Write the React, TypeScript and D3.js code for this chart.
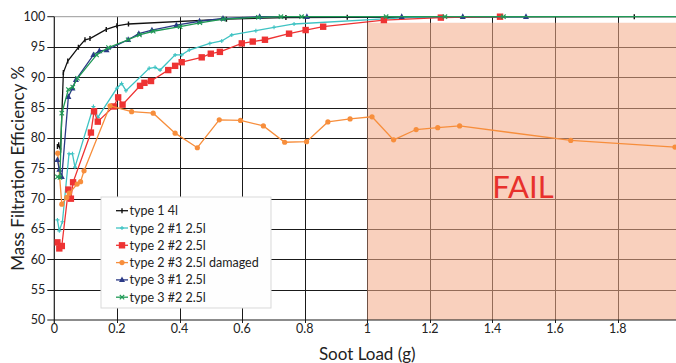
import React from "react";
import * as d3 from "d3";

const xTicks = [0, 0.2, 0.4, 0.6, 0.8, 1, 1.2, 1.4, 1.6, 1.8];
const yTicks = [50, 55, 60, 65, 70, 75, 80, 85, 90, 95, 100];

const seriesNames = ["type 1 4l", "type 2 #1 2.5l", "type 2 #2 2.5l", "type 2 #3 2.5l damaged", "type 3 #1 2.5l", "type 3 #2 2.5l"];
const seriesColors = ["#111111", "#3fc3c3", "#ee3333", "#f78e3c", "#2b3a86", "#1f9a55"];
const seriesMarkers = ["tick", "plus", "square", "circle", "triangle", "cross"];

const type1X = [0.010, 0.014, 0.020, 0.029, 0.043, 0.077, 0.098, 0.114, 0.166, 0.200, 0.237, 0.550, 0.740, 0.936, 1.853, 2.0];
const type1Y = [78.6, 78.9, 78.0, 90.8, 92.7, 94.95, 96.2, 96.4, 97.9, 98.5, 98.8, 99.6, 99.85, 99.9, 100, 100];

const type2aX = [0.010, 0.016, 0.026, 0.047, 0.058, 0.066, 0.125, 0.139, 0.200, 0.215, 0.229, 0.303, 0.322, 0.338, 0.386, 0.407, 0.431, 0.497, 0.535, 0.567, 0.644, 0.702, 0.766, 1.110, 1.305, 1.507];
const type2aY = [66.5, 64.7, 66.2, 77.4, 77.4, 75.2, 85.2, 83.4, 88.2, 89.0, 87.8, 91.5, 91.65, 91.2, 93.7, 93.7, 94.5, 95.6, 96.0, 97.0, 97.7, 98.25, 98.8, 99.8, 100, 100];

const type2bX = [0.010, 0.016, 0.024, 0.045, 0.053, 0.060, 0.117, 0.127, 0.139, 0.190, 0.204, 0.218, 0.274, 0.288, 0.309, 0.364, 0.386, 0.407, 0.471, 0.500, 0.529, 0.599, 0.634, 0.673, 0.750, 0.803, 0.859, 1.053, 1.235, 1.424];
const type2bY = [62.8, 61.8, 62.2, 71.5, 70.0, 72.7, 80.9, 84.4, 82.7, 85.2, 86.7, 85.5, 88.6, 89.1, 89.4, 91.2, 91.9, 92.5, 93.3, 93.9, 94.2, 95.6, 95.9, 96.2, 97.2, 97.8, 98.35, 99.45, 99.85, 100];

const type2cX = [0.011, 0.024, 0.040, 0.048, 0.073, 0.084, 0.095, 0.178, 0.247, 0.316, 0.386, 0.457, 0.527, 0.595, 0.668, 0.736, 0.806, 0.874, 0.945, 1.015, 1.084, 1.156, 1.225, 1.295, 1.650, 1.983];
const type2cY = [77.5, 69.1, 70.2, 70.9, 72.4, 72.8, 74.6, 85.3, 84.35, 84.1, 80.8, 78.4, 83.0, 82.9, 82.0, 79.3, 79.4, 82.65, 83.15, 83.5, 79.7, 81.4, 81.7, 82.0, 79.6, 78.5];

const type3aX = [0.010, 0.016, 0.024, 0.045, 0.058, 0.069, 0.125, 0.144, 0.167, 0.236, 0.270, 0.312, 0.390, 0.464, 0.539, 0.656, 0.807, 1.110, 1.305, 1.507];
const type3aY = [76.4, 74.8, 73.6, 86.8, 88.2, 89.6, 93.7, 94.35, 94.5, 96.2, 97.2, 97.8, 98.6, 99.25, 99.7, 100, 100, 100, 100, 100];

const type3bX = [0.010, 0.018, 0.024, 0.045, 0.059, 0.074, 0.135, 0.173, 0.236, 0.272, 0.316, 0.402, 0.465, 0.540, 0.652, 0.724, 0.790, 1.060, 1.248, 1.435, 2.0];
const type3bY = [73.6, 73.5, 84.1, 88.0, 88.4, 89.85, 93.7, 94.9, 96.2, 97.0, 97.6, 98.35, 99.0, 99.6, 99.9, 100, 100, 100, 100, 100, 100];

const seriesXs = [type1X, type2aX, type2bX, type2cX, type3aX, type3bX];
const seriesYs = [type1Y, type2aY, type2bY, type2cY, type3aY, type3bY];

const failLabel = "FAIL";
const failFrom = 1;
const failTop = 99;

const FONT = "Lato, 'Open Sans', sans-serif";

function Marker({ kind, x, y, color }: { kind: string; x: number; y: number; color: string }) {
  switch (kind) {
    case "tick":
      return <g stroke={color} strokeWidth={1.4}><line x1={x} x2={x} y1={y - 2.5} y2={y + 2.5} /></g>;
    case "plus":
      return <g stroke={color} strokeWidth={1.1}><line x1={x - 2} x2={x + 2} y1={y} y2={y} /><line x1={x} x2={x} y1={y - 2} y2={y + 2} /></g>;
    case "square":
      return <rect x={x - 3.2} y={y - 3.2} width={6.4} height={6.4} fill={color} />;
    case "circle":
      return <circle cx={x} cy={y} r={2.6} fill={color} />;
    case "triangle":
      return <path d={`M${x},${y - 3.4}L${x + 3},${y + 2.2}L${x - 3},${y + 2.2}Z`} fill={color} />;
    case "cross":
      return <g stroke={color} strokeWidth={1.1}><line x1={x - 2.2} x2={x + 2.2} y1={y - 2.2} y2={y + 2.2} /><line x1={x - 2.2} x2={x + 2.2} y1={y + 2.2} y2={y - 2.2} /></g>;
    default:
      return null;
  }
}

export default function App() {
  const W = 676, H = 363;
  const x = d3.scaleLinear().domain([0, 2]).range([54.3, 680.3]);
  const y = d3.scaleLinear().domain([50, 100]).range([320, 16.7]);
  const line = d3.line<[number, number]>().x(d => x(d[0])).y(d => y(d[1]));

  const legX = 101, legY = 197, legW = 170, legH = 111;
  return (
    <svg width={W} height={H} style={{ position: "absolute", left: 0, top: 0, background: "#fff" }} fontFamily={FONT}>
      <defs>
        <clipPath id="plot"><rect x={x(0)} y={y(100) - 6} width={W - x(0)} height={y(50) - y(100) + 6} /></clipPath>
      </defs>
      {yTicks.filter(t => t > 50 && t < 100).map(t => (
        <line key={"h" + t} x1={x(0) - 7} x2={W} y1={Math.round(y(t)) + 0.5} y2={Math.round(y(t)) + 0.5} stroke="#1a1a1a" strokeWidth={1} />
      ))}
      {xTicks.filter(t => t > 0).map(t => (
        <line key={"v" + t} x1={Math.round(x(t)) + 0.5} x2={Math.round(x(t)) + 0.5} y1={y(100)} y2={y(50) + 3} stroke="#1a1a1a" strokeWidth={1} />
      ))}
      <line x1={x(0)} x2={W} y1={y(100)} y2={y(100)} stroke="#999" strokeWidth={1} />
      <rect x={x(failFrom)} y={y(failTop)} width={W - x(failFrom)} height={y(50) - y(failTop)} fill="rgb(245,172,138)" fillOpacity={0.56} />
      <line x1={x(0) - 7} x2={W} y1={y(50)} y2={y(50)} stroke="#1a1a1a" strokeWidth={1.2} />
      <line x1={x(0)} x2={x(0)} y1={y(100)} y2={y(50) + 3} stroke="#1a1a1a" strokeWidth={1.2} />
      <line x1={x(0) - 7} x2={x(0)} y1={y(100)} y2={y(100)} stroke="#1a1a1a" strokeWidth={1} />
      {yTicks.map(t => (
        <text key={"yl" + t} x={x(0) - 9} y={y(t) + 4.3} textAnchor="end" fontSize={12.5} fill="#222">{t}</text>
      ))}
      {xTicks.map(t => (
        <text key={"xl" + t} x={x(t)} y={333} textAnchor="middle" fontSize={12.5} fill="#222">{t}</text>
      ))}
      <text x={523} y={198} textAnchor="middle" fontSize={31} fill="#e8312c">{failLabel}</text>
      <g clipPath="url(#plot)">
        {seriesXs.map((xs, i) => {
          const pts = xs.map((v, j) => [v, seriesYs[i][j]] as [number, number]);
          return (
            <g key={"s" + i}>
              <path d={line(pts) || ""} fill="none" stroke={seriesColors[i]} strokeWidth={1.3} />
              {pts.map((p, j) => <Marker key={j} kind={seriesMarkers[i]} x={x(p[0])} y={y(p[1])} color={seriesColors[i]} />)}
            </g>
          );
        })}
      </g>
      <rect x={legX} y={legY} width={legW} height={legH} fill="#fefefe" stroke="#d9d9d9" strokeWidth={1} />
      {seriesNames.map((n, i) => {
        const ry = 210.7 + i * 17.3;
        return (
          <g key={"lg" + i}>
            <line x1={116} x2={128} y1={ry} y2={ry} stroke={seriesColors[i]} strokeWidth={1.3} />
            <Marker kind={seriesMarkers[i]} x={122} y={ry} color={seriesColors[i]} />
            <text x={129.5} y={ry + 4.5} fontSize={12.5} fill="#222">{n}</text>
          </g>
        );
      })}
      <text transform={`translate(24,${(y(50) + y(100)) / 2}) rotate(-90)`} textAnchor="middle" fontSize={17} fill="#222">Mass Filtration Efficiency %</text>
      <text x={(x(0) + x(2)) / 2} y={360} textAnchor="middle" fontSize={17} fill="#222">Soot Load (g)</text>
    </svg>
  );
}
